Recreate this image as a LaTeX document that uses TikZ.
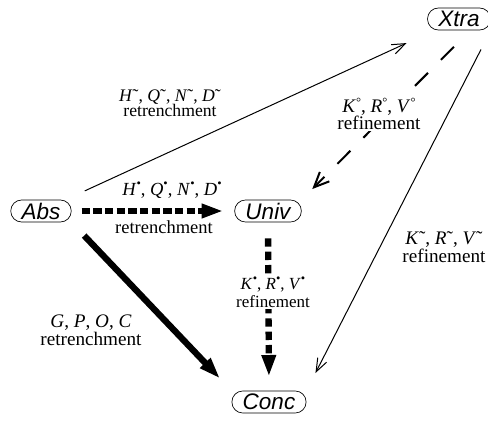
\documentclass[tikz,border=0pt]{standalone}
\usepackage{fontspec}
\setmainfont{Liberation Serif}
\setsansfont{Liberation Sans}
\usetikzlibrary{arrows.meta}
\newcommand{\opTil}[1]{\textit{#1}\char"02DC}
\newcommand{\opDeg}[1]{\textit{#1}\raisebox{0.27em}{\fontsize{7.5}{7.5}\selectfont\char"00B0}}
\newcommand{\opDot}[1]{\textit{#1}\raisebox{0.42em}{\fontsize{7.5}{7.5}\selectfont\char"2022}}
\tikzset{
  model/.style={draw,rounded corners=6.5pt,inner xsep=6.5pt,inner ysep=0pt,
    minimum height=13.2pt,font=\sffamily\itshape\fontsize{13.5}{15}\selectfont},
  lbl/.style 2 args={fill=white,inner sep=1pt,align=center,
    font=\fontsize{#1}{#2}\selectfont},
  weakarrow/.style={-{Straight Barb[length=8pt,width=6pt]},line width=0.6pt},
  dasharrow/.style={-{Straight Barb[length=9pt,width=8pt]},line width=1.2pt,
    dash pattern=on 11pt off 11pt},
  boldarrow/.style={-{Triangle[length=13pt,width=8pt]},line width=3.8pt}
}
\begin{document}
\begin{tikzpicture}[x=0.6pt,y=-0.6pt]
  \useasboundingbox (0,0) rectangle (488,421);
  % models
  \node[model] (xtra) at (459,19) {Xtra};
  \node[model] (abs) at (41,211) {Abs};
  \node[model] (univ) at (268,211) {Univ};
  \node[model] (conc) at (269,402) {Conc};

  % connectors
  \draw[weakarrow,shorten <=12.6pt,shorten >=18.3pt] (abs) -- (xtra);
  \draw[dasharrow,shorten <=14pt,shorten >=9pt] (xtra.-45) -- (univ.north east);
  \draw[boldarrow,dash pattern=on 5pt off 2pt,shorten <=6pt,shorten >=6.6pt]
    (abs.east) -- (univ.west);
  \draw[boldarrow,dash pattern=on 5pt off 3pt,shorten <=9.6pt,shorten >=8.4pt]
    (univ.south) -- (conc.north);
  \draw[boldarrow,shorten <=11pt,shorten >=10pt] (abs.south east) -- (conc.north west);
  \draw[weakarrow,shorten <=12.9pt,shorten >=11.9pt] (xtra.south east) -- (conc.north east);

  % labels
  \node[lbl={10.6}{9.4}] (l1) at (170,103)
    {\opTil{H}, \opTil{Q}, \opTil{N}, \opTil{D}\\retrenchment};
  \node[lbl={11.5}{10.2}] (l2) at (379,114)
    {\opDeg{K}, \opDeg{R}, \opDeg{V}\\refinement};
  \node[lbl={11.1}{11},anchor=base] (l3a) at (172,195)
    {\opDot{H}, \opDot{Q}, \opDot{N}, \opDot{D}};
  \node[lbl={11.1}{11},anchor=base] (l3b) at (164,233) {retrenchment};
  \node[lbl={10.2}{10.8}] (l4) at (273,292)
    {\opDot{K}, \opDot{R}, \opDot{V}\\refinement};
  \node[lbl={11.5}{10.8}] (l5) at (91,330)
    {\textit{G}, \textit{P}, \textit{O}, \textit{C}\\retrenchment};
  \node[lbl={11.5}{9.8}] (l6) at (444,247)
    {\opTil{K}, \opTil{R}, \opTil{V}\\refinement};
\end{tikzpicture}
\end{document}
